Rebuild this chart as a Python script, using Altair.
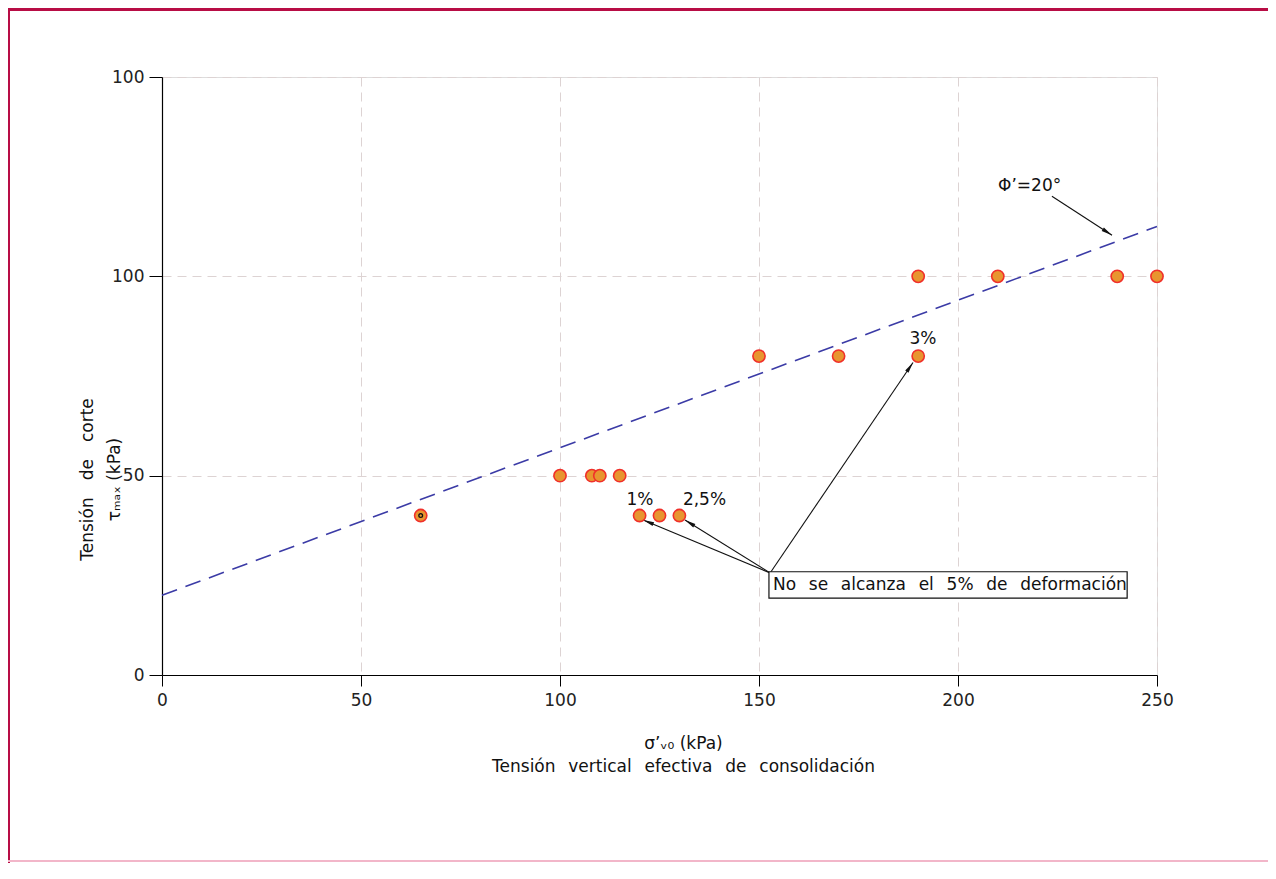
import math
import altair as alt
import pandas as pd

# ---- data ----
sigma_v0 = [65, 100, 108, 110, 115, 120, 125, 130, 150, 170, 190, 190, 210, 240, 250]
tau_max = [40, 50, 50, 50, 50, 40, 40, 40, 80, 80, 100, 80, 100, 100, 100]

fit_x = [0, 250]
fit_y = [20, 112.5]

x_ticks = [0, 50, 100, 150, 200, 250]
y_ticks = [0, 50, 100, 150]
y_tick_labels = ["0", "50", "100", "100"]

# annotations (data coordinates)
label_text = ["1%", "2,5%", "3%", "Φ’=20°"]
label_x = [120.1, 136.3, 191.2, 218.0]
label_y = [44.0, 44.0, 84.2, 122.6]

arrow_x0 = [152.8, 152.8, 152.8, 223.6]
arrow_y0 = [25.6, 25.6, 25.6, 120.1]
arrow_x1 = [120.9, 131.4, 188.7, 238.7]
arrow_y1 = [38.9, 38.9, 78.4, 110.3]

note_text = "No se alcanza el 5% de deformación"
note_box = {"x": 152.5, "x2": 242.5, "y": 19.3, "y2": 25.9}

x_title = ["σ’ᵥ₀ (kPa)", "Tensión vertical efectiva de consolidación"]
y_title = ["Tensión de corte", "τₘₐₓ (kPa)"]

FONT = "DejaVu Sans"
W, H = 995, 598
PAD_L, PAD_T, PAD_R, PAD_B = 154, 69, 111, 188

EM = "\u2003"
EN_Q = "\u2002\u2005"


def wide(s, sp):
    # the reference font draws very wide word spaces
    return s.replace(" ", sp)


pts = pd.DataFrame({"x": sigma_v0, "y": tau_max})
fit = pd.DataFrame({"x": fit_x, "y": fit_y})
labels = pd.DataFrame({"x": label_x, "y": label_y, "t": label_text})
arrows = pd.DataFrame({"x": arrow_x0, "y": arrow_y0, "x2": arrow_x1, "y2": arrow_y1})
arrows["angle"] = [
    (math.degrees(math.atan2(b - a, d - c)) + 360) % 360
    for a, b, c, d in zip(arrow_x0, arrow_x1, arrow_y0, arrow_y1)
]
box = pd.DataFrame([note_box])
note = pd.DataFrame({"x": [note_box["x"] + 1.0],
                     "y": [(note_box["y"] + note_box["y2"]) / 2],
                     "t": [wide(note_text, EN_Q)]})

label_expr = ("[" + ",".join(f"'{s}'" for s in y_tick_labels) + "][indexof(["
              + ",".join(str(v) for v in y_ticks) + "], datum.value)]")

xscale = alt.Scale(domain=[0, 250], nice=False, zero=False)
yscale = alt.Scale(domain=[0, 150], nice=False, zero=False)

xenc = alt.X(
    "x:Q", scale=xscale,
    axis=alt.Axis(
        values=x_ticks, grid=True, gridDash=[9, 6], gridColor="#ddd3d3", gridWidth=1,
        domainColor="#000", domainWidth=1.2, tickColor="#000", tickSize=11,
        labelFont=FONT, labelFontSize=17, labelColor="#222", labelPadding=6, labelFlush=False,
        title=[x_title[0], wide(x_title[1], EN_Q)],
        titleFont=FONT, titleFontSize=17, titleFontWeight="normal", titleColor="#111",
        titleX=521, titlePadding=27, titleLineHeight=23,
    ),
)
yenc = alt.Y(
    "y:Q", scale=yscale,
    axis=alt.Axis(
        values=y_ticks, grid=True, gridDash=[9, 6], gridColor="#ddd3d3", gridWidth=1,
        domainColor="#000", domainWidth=1.2, tickColor="#000", tickSize=13,
        labelFont=FONT, labelFontSize=17, labelColor="#222", labelPadding=5, labelFlush=False,
        labelExpr=label_expr,
        title=[wide(y_title[0], EM), y_title[1]],
        titleFont=FONT, titleFontSize=17, titleFontWeight="normal", titleColor="#111",
        titleY=402, titleX=-66, titleAngle=270, titleLineHeight=27, titleAlign="center",
        titleBaseline="bottom",
    ),
)

base_pts = alt.Chart(pts).mark_point(
    filled=False, shape="circle", size=150, fill="#e8952f", fillOpacity=1,
    stroke="#f0302a", strokeWidth=1.6, opacity=1,
).encode(x=xenc, y=yenc)

center_dot = alt.Chart(pts[pts.x == 65]).mark_point(
    shape="circle", size=14, filled=False, stroke="#111", strokeWidth=1.3, opacity=1
).encode(x=alt.X("x:Q", scale=xscale), y=alt.Y("y:Q", scale=yscale))

fit_line = alt.Chart(fit).mark_line(
    color="#3b3ba6", strokeWidth=1.6, strokeDash=[16, 9]
).encode(x=alt.X("x:Q", scale=xscale), y=alt.Y("y:Q", scale=yscale))

arrow_lines = alt.Chart(arrows).mark_rule(color="#111", strokeWidth=1.1).encode(
    x=alt.X("x:Q", scale=xscale), y=alt.Y("y:Q", scale=yscale), x2="x2:Q", y2="y2:Q"
)
arrow_heads = alt.Chart(arrows).mark_point(
    shape="M0,0L-0.4,2.2L0.4,2.2Z", size=100, filled=True, color="#111", opacity=1
).encode(
    x=alt.X("x2:Q", scale=xscale), y=alt.Y("y2:Q", scale=yscale),
    angle=alt.Angle("angle:Q", scale=None)
)

label_marks = alt.Chart(labels).mark_text(
    font=FONT, fontSize=17, color="#111", align="center", baseline="middle"
).encode(x=alt.X("x:Q", scale=xscale), y=alt.Y("y:Q", scale=yscale), text="t:N")

box_mark = alt.Chart(box).mark_rect(fill="white", stroke="#111", strokeWidth=1.2).encode(
    x=alt.X("x:Q", scale=xscale), x2="x2:Q", y=alt.Y("y:Q", scale=yscale), y2="y2:Q"
)
note_mark = alt.Chart(note).mark_text(
    font=FONT, fontSize=17, color="#111", align="left", baseline="middle"
).encode(x=alt.X("x:Q", scale=xscale), y=alt.Y("y:Q", scale=yscale), text="t:N")

frame_df = pd.DataFrame({"k": ["top", "left", "bottom"]})
frame_top = alt.Chart(frame_df.iloc[[0]]).mark_rule(color="#b80d45", strokeWidth=3).encode(
    x=alt.value(-PAD_L), x2=alt.value(W + PAD_R), y=alt.value(-PAD_T + 1.5)
)
frame_left = alt.Chart(frame_df.iloc[[1]]).mark_rule(color="#b80d45", strokeWidth=2).encode(
    x=alt.value(-PAD_L + 1), y=alt.value(-PAD_T), y2=alt.value(H + PAD_B)
)
frame_bottom = alt.Chart(frame_df.iloc[[2]]).mark_rule(color="#f2b6c9", strokeWidth=2).encode(
    x=alt.value(-PAD_L), x2=alt.value(W + PAD_R), y=alt.value(H + PAD_B - 2)
)

chart = alt.layer(
    fit_line, arrow_lines, arrow_heads, base_pts, center_dot, label_marks,
    box_mark, note_mark, frame_top, frame_left, frame_bottom,
).properties(
    width=W, height=H,
    autosize=alt.AutoSizeParams(type="none"),
    padding={"left": PAD_L, "top": PAD_T, "right": PAD_R, "bottom": PAD_B},
).configure_view(stroke=None).configure(background="white")

chart.save("out.html", embed_options={"renderer": "svg", "actions": False})
